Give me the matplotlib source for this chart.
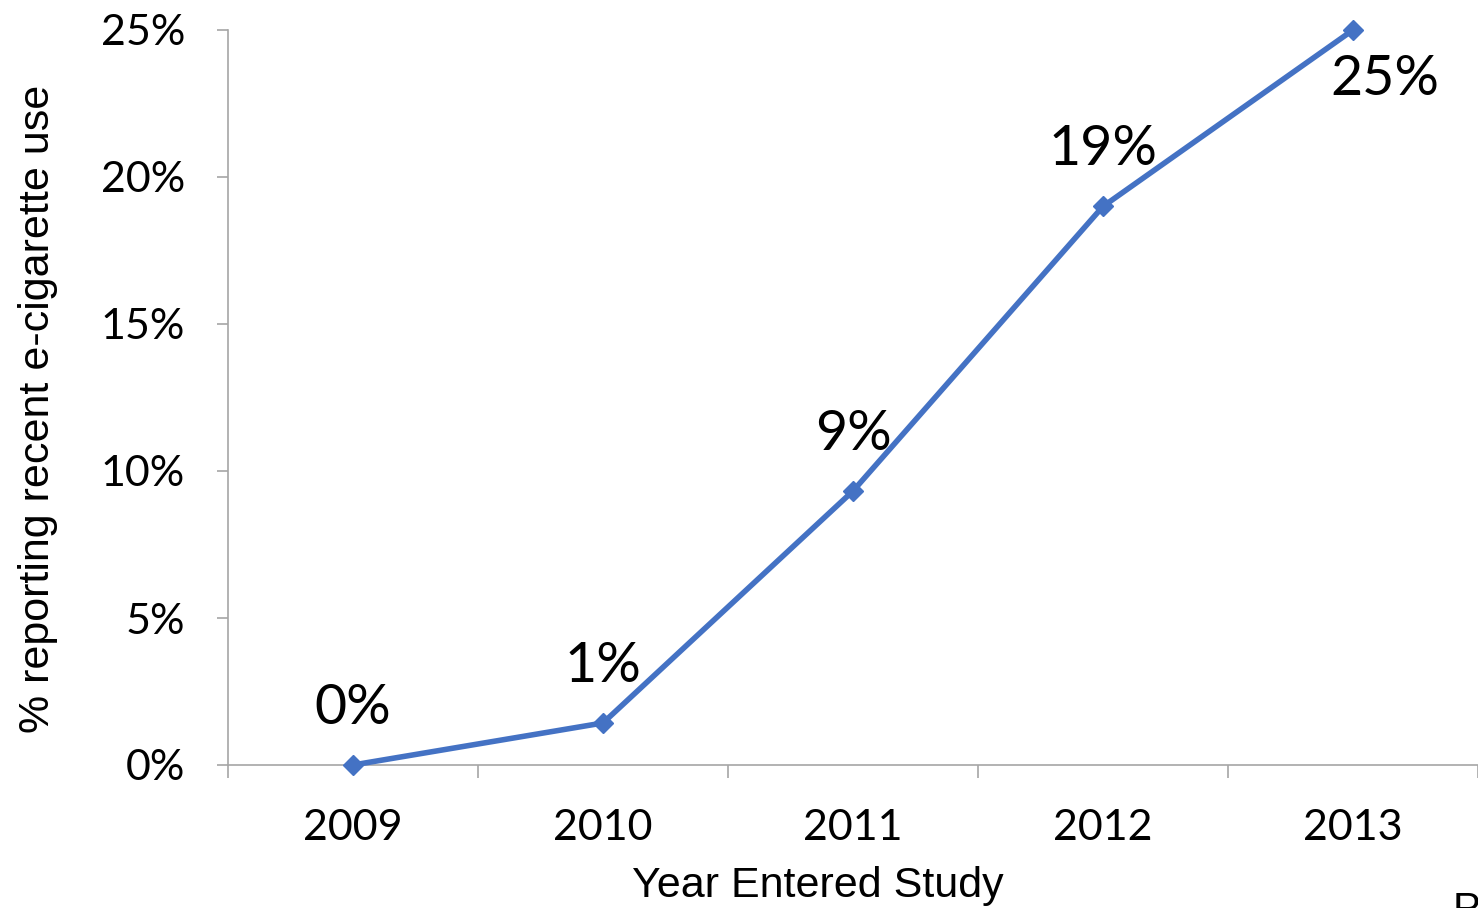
import matplotlib
matplotlib.use("Agg")
import matplotlib.pyplot as plt
from matplotlib.ticker import FuncFormatter

# Share of new study entrants reporting recent e-cigarette use
years = ["2009", "2010", "2011", "2012", "2013"]
pct_use = [0.0, 1.43, 9.32, 19.0, 25.0]
y_ticks = [0, 5, 10, 15, 20, 25]

LINE_BLUE = "#4472C4"
AXIS_GRAY = "#A6A6A6"
NUM_FONT = "Lato"
TITLE_FONT = "Liberation Sans"

W, H = 1478, 908
fig = plt.figure(figsize=(W / 100, H / 100), dpi=100)
ax = fig.add_axes([228 / W, (H - 765) / H, 1 - 228 / W, (765 - 30) / H])

x = list(range(len(years)))
ax.plot(x, pct_use, color=LINE_BLUE, lw=4.0, marker="D", ms=10,
        markerfacecolor=LINE_BLUE, markeredgecolor=LINE_BLUE, clip_on=False,
        solid_joinstyle="miter", zorder=3)

ax.set_xlim(-0.5, len(years) - 0.5)
ax.set_ylim(0, 25)

# category boundaries carry the ticks, labels sit centred on each year
ax.set_xticks([i - 0.5 for i in range(len(years) + 1)])
ax.set_xticklabels([])
ax.set_xticks(x, minor=True)
ax.set_xticklabels(years, minor=True, fontsize=31, fontfamily=NUM_FONT)
ax.tick_params(axis="x", which="major", length=9, width=1.2, color=AXIS_GRAY, direction="out")
ax.tick_params(axis="x", which="minor", length=0, pad=32)

ax.set_yticks(y_ticks)
ax.yaxis.set_major_formatter(FuncFormatter(lambda v, _: f"{v:.0f}%"))
ax.tick_params(axis="y", length=8, width=1.2, color=AXIS_GRAY, pad=23, labelsize=31)
for lbl in ax.get_yticklabels():
    lbl.set_fontfamily(NUM_FONT)

for side in ("top", "right"):
    ax.spines[side].set_visible(False)
for side in ("left", "bottom"):
    ax.spines[side].set_color(AXIS_GRAY)
    ax.spines[side].set_linewidth(1.2)

# value labels: rounded percent of each point
for i, v in enumerate(pct_use):
    if i == len(pct_use) - 1:
        ax.annotate(f"{round(v):.0f}%", (i, v), xytext=(23, -36), textcoords="offset points",
                    ha="center", va="center", fontsize=40, fontfamily=NUM_FONT)
    else:
        ax.annotate(f"{round(v):.0f}%", (i, v), xytext=(0, 41), textcoords="offset points",
                    ha="center", va="center", fontsize=40, fontfamily=NUM_FONT)

ax.set_xlabel("Year Entered Study", fontsize=31, fontfamily=TITLE_FONT, va="center")
ax.xaxis.set_label_coords(0.472, -(886 - 765) / 735)
ax.set_ylabel("% reporting recent e-cigarette use", fontsize=31, fontfamily=TITLE_FONT, va="center")
ax.yaxis.set_label_coords(-(228 - 38) / 1250, 0.484)

fig.text(1453 / W, 1 - 891 / H, "Pr", ha="left", va="top", fontsize=30, fontfamily=TITLE_FONT)

fig.savefig("out.png", dpi=100)
